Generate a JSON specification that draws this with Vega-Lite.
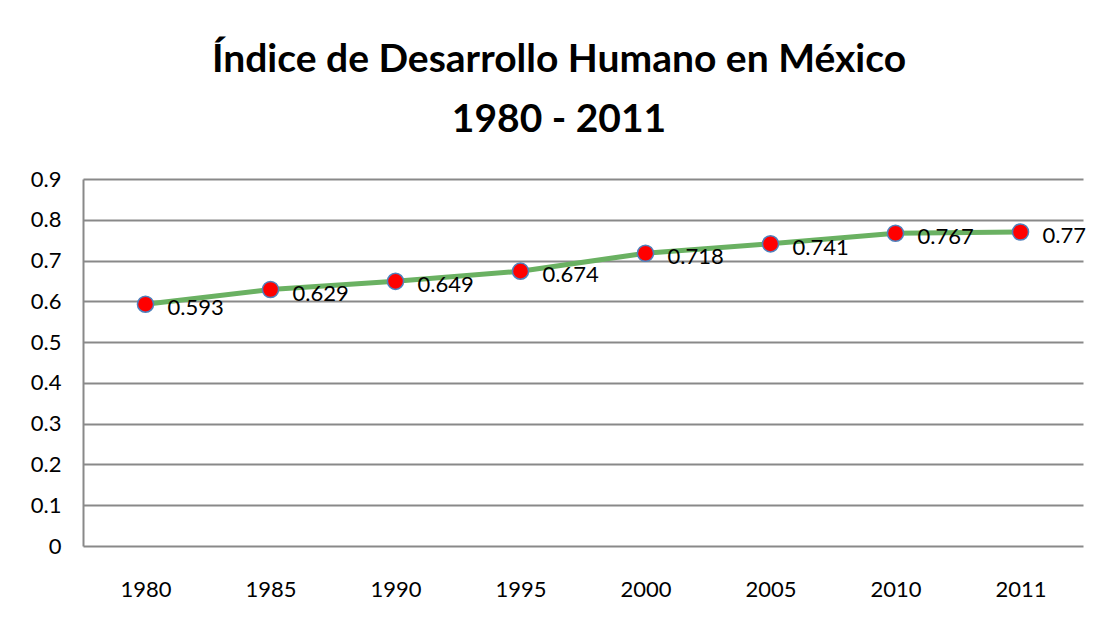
{
  "$schema": "https://vega.github.io/schema/vega-lite/v6.json",
  "width": 1000,
  "height": 367,
  "autosize": {"type": "none"},
  "padding": {"left": 83, "top": 179, "right": 14, "bottom": 79},
  "background": "white",
  "config": {"view": {"stroke": null}, "font": "Lato"},
  "title": {
    "text": ["Índice de Desarrollo Humano en México", "1980 - 2011"],
    "fontSize": 39,
    "fontWeight": "bold",
    "font": "Lato",
    "color": "#000000",
    "anchor": "middle",
    "frame": "group",
    "dx": -24,
    "offset": 28,
    "lineHeight": 60
  },
  "data": {
    "values": [
      {"year": "1980", "idh": 0.593},
      {"year": "1985", "idh": 0.629},
      {"year": "1990", "idh": 0.649},
      {"year": "1995", "idh": 0.674},
      {"year": "2000", "idh": 0.718},
      {"year": "2005", "idh": 0.741},
      {"year": "2010", "idh": 0.767},
      {"year": "2011", "idh": 0.77}
    ]
  },
  "encoding": {
    "x": {
      "field": "year",
      "type": "ordinal",
      "sort": null,
      "scale": {"type": "point", "padding": 0.5},
      "axis": {
        "title": null,
        "labelAngle": 0,
        "ticks": false,
        "domain": false,
        "grid": false,
        "labelFontSize": 22,
        "labelFont": "Lato",
        "labelPadding": 33,
        "labelColor": "#000000"
      }
    },
    "y": {
      "field": "idh",
      "type": "quantitative",
      "scale": {"domain": [0, 0.9], "nice": false, "zero": true},
      "axis": {
        "title": null,
        "values": [0, 0.1, 0.2, 0.3, 0.4, 0.5, 0.6, 0.7, 0.8, 0.9],
        "format": "~g",
        "ticks": false,
        "domain": true,
        "domainColor": "#898989",
        "domainWidth": 2,
        "grid": true,
        "gridColor": "#898989",
        "gridWidth": 2,
        "gridOpacity": 1,
        "labelFontSize": 22,
        "labelFont": "Lato",
        "labelPadding": 22,
        "labelColor": "#000000"
      }
    }
  },
  "layer": [
    {
      "mark": {"type": "line", "color": "#6AB162", "strokeWidth": 5}
    },
    {
      "mark": {"type": "point", "filled": true, "fill": "#FF0000", "stroke": "#4F81BD", "strokeWidth": 1.5, "size": 260, "opacity": 1, "shape": "circle"}
    },
    {
      "mark": {"type": "text", "align": "left", "baseline": "middle", "dx": 22, "dy": 4, "fontSize": 22, "font": "Lato", "color": "#000000"},
      "encoding": {"text": {"field": "idh", "type": "quantitative", "format": "~g"}}
    }
  ]
}
